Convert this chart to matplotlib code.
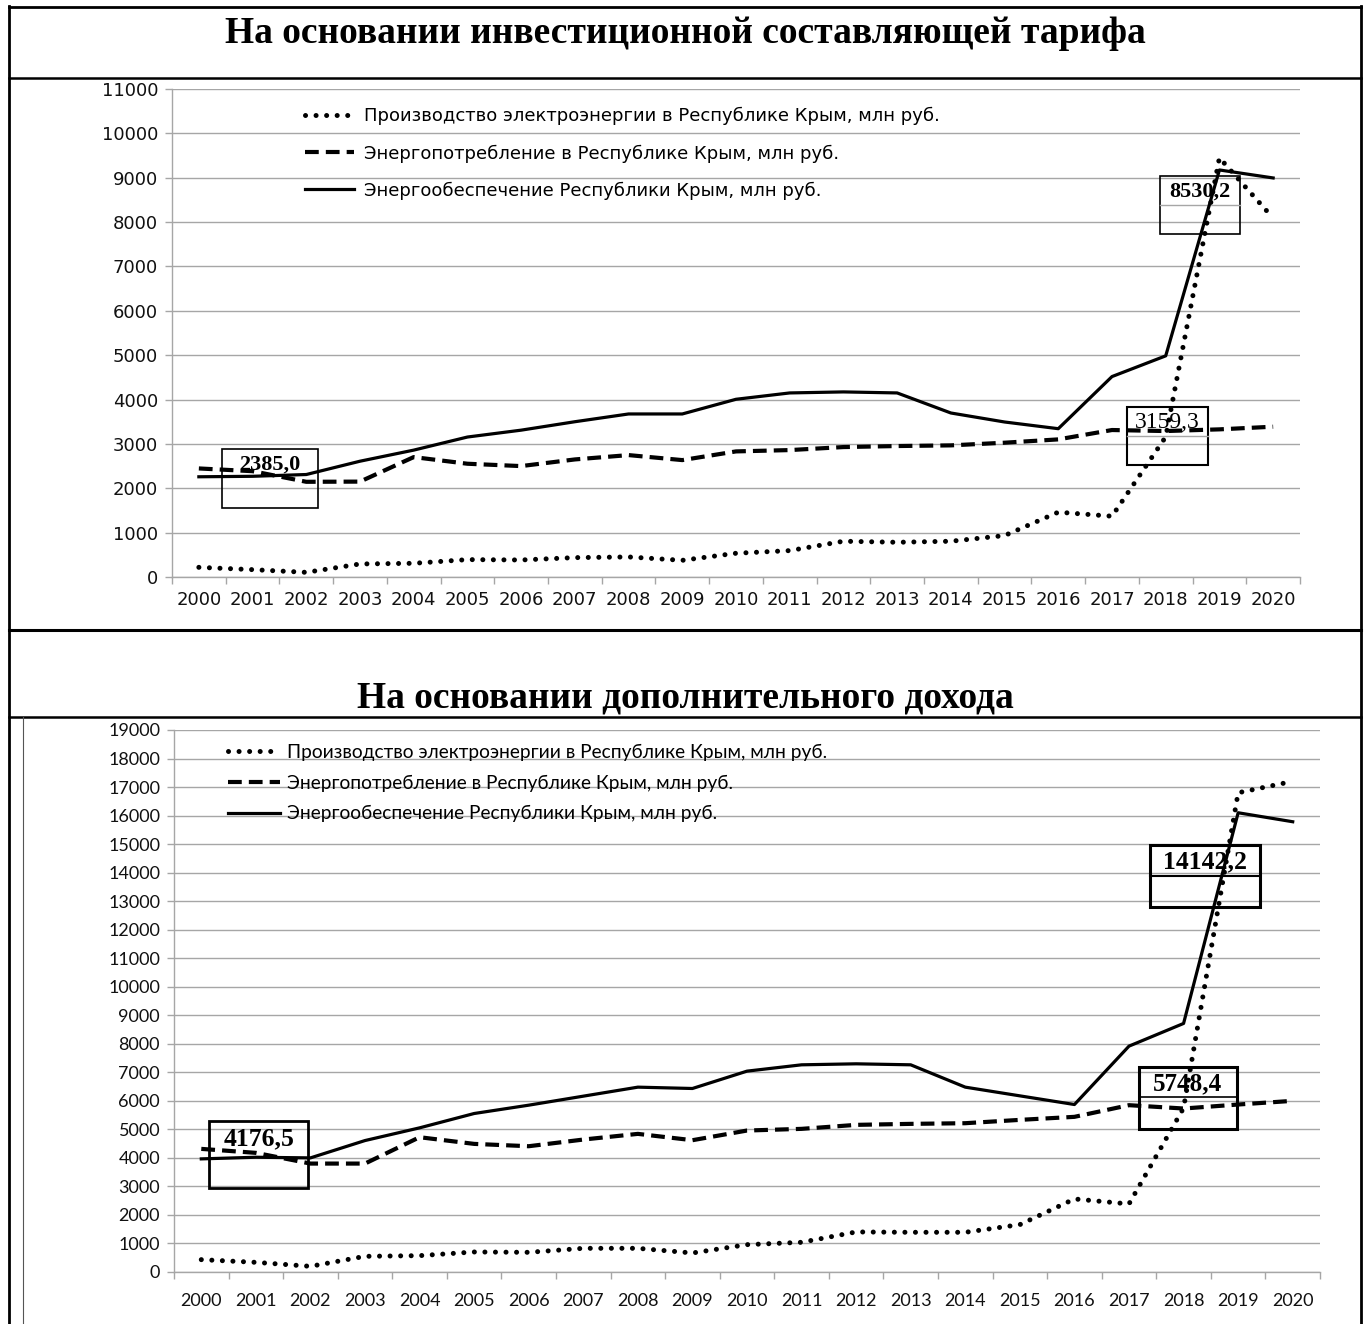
import numpy as np
import matplotlib
matplotlib.use("Agg")
import matplotlib.pyplot as plt
from matplotlib.patches import Rectangle
from matplotlib.lines import Line2D

years = [str(y) for y in range(2000, 2021)]

labels = ["Производство электроэнергии в Республике Крым, млн руб.",
          "Энергопотребление в Республике Крым, млн руб.",
          "Энергообеспечение Республики Крым, млн руб."]

# top chart - на основании инвестиционной составляющей тарифа
inv_production = [218, 166, 105, 294, 309, 392, 384, 437, 452, 376, 535,
                  595, 806, 783, 806, 934, 1461, 1370, 3159.3, 9450, 8090]
inv_consumption = [2447, 2385.0, 2146, 2150, 2703, 2553, 2500, 2650, 2748, 2635, 2831,
                   2861, 2929, 2952, 2967, 3027, 3102, 3313, 3290, 3328, 3388]
inv_supply = [2259, 2270, 2310, 2610, 2860, 3155, 3310, 3500, 3675, 3675, 4006,
              4149, 4172, 4149, 3697, 3494, 3343, 4518, 4985, 9175, 8995]

# bottom chart - на основании дополнительного дохода
add_production = [433, 339, 199, 550, 573, 702, 690, 830, 830, 667, 959,
                  1041, 1404, 1392, 1392, 1661, 2561, 2386, 5748.4, 16800, 17200]
add_consumption = [4316, 4176.5, 3801, 3801, 4725, 4491, 4409, 4643, 4842, 4620, 4959,
                   5018, 5158, 5193, 5216, 5333, 5439, 5848, 5731, 5871, 6000]
add_supply = [3965, 4023, 4000, 4608, 5053, 5556, 5848, 6164, 6480, 6433, 7041,
              7263, 7298, 7263, 6480, 6175, 5871, 7918, 8713, 16099, 15784]

gridc = "#a6a6a6"
W, H = 1365, 1324

fig = plt.figure(figsize=(W / 100, H / 100), dpi=100)
fig.patch.set_facecolor("white")


def setup_axes(ax, ymax, font, fsize, xpad, ypad):
    ax.set_xlim(-0.5, 20.5)
    ax.set_ylim(0, ymax)
    ax.set_yticks(range(0, ymax + 1, 1000))
    ax.set_xticks(range(21))
    ax.set_xticklabels(years)
    ax.set_xticks(np.arange(-0.5, 21, 1), minor=True)
    ax.tick_params(axis="x", which="major", length=0, pad=xpad)
    ax.tick_params(axis="x", which="minor", length=5, color=gridc, width=1)
    ax.tick_params(axis="y", length=5, color=gridc, width=1, pad=ypad)
    for s in ["top", "right"]:
        ax.spines[s].set_visible(False)
    for s in ["left", "bottom"]:
        ax.spines[s].set_color(gridc)
        ax.spines[s].set_linewidth(1)
    ax.grid(axis="y", color=gridc, lw=1)
    ax.set_axisbelow(True)
    for lab in ax.get_xticklabels() + ax.get_yticklabels():
        lab.set_fontfamily(font)
        lab.set_fontsize(fsize)
        lab.set_color("#111111")


def draw_lines(ax, prod, cons, supp):
    x = np.arange(len(years))
    ax.plot(x, prod, color="black", lw=3.6, linestyle=(0, (0.01, 2.1)),
            dash_capstyle="round", label=labels[0], zorder=3)
    ax.plot(x, cons, color="black", lw=3.0, linestyle=(0, (3.3, 1.7)),
            dash_capstyle="butt", label=labels[1], zorder=3)
    ax.plot(x, supp, color="black", lw=2.3, label=labels[2], zorder=3)


def add_box(ax, x0, x1, y0, y1, ymid, text, size, weight, lw, midc, midlw):
    ax.add_patch(Rectangle((x0, y0), x1 - x0, y1 - y0, fill=False,
                           ec="black", lw=lw, zorder=2))
    if ymid is not None:
        ax.plot([x0, x1], [ymid, ymid], color=midc, lw=midlw, zorder=2)
    ty = y1 - (y1 - y0) * 0.27
    ax.text((x0 + x1) / 2, ty, text, ha="center", va="center",
            family="Liberation Serif", weight=weight, size=size, zorder=2)


# top panel
ax1 = fig.add_axes([172 / W, 1 - 577 / H, (1300 - 172) / W, (577 - 89) / H])
setup_axes(ax1, 11000, "DejaVu Sans", 13, 10, 5)
draw_lines(ax1, inv_production, inv_consumption, inv_supply)
ax1.legend(loc="upper left", bbox_to_anchor=(0.118, 0.963), frameon=False,
           handlelength=2.7, handletextpad=0.55, labelspacing=1.05,
           borderpad=0, borderaxespad=0,
           prop={"family": "DejaVu Sans", "size": 13})
add_box(ax1, 0.43, 2.22, 1555, 2885, None, "2385,0", 16, "bold", 1.2, "black", 1)
add_box(ax1, 17.9, 19.39, 7732, 9040, 8386, "8530,2", 16, "bold", 1.2, gridc, 1)
add_box(ax1, 17.27, 18.79, 2525, 3832, 3179, "3159,3", 17, "normal", 1.5, gridc, 1)

# bottom panel
ax2 = fig.add_axes([174 / W, 1 - 1272 / H, (1320 - 174) / W, (1272 - 730) / H])
setup_axes(ax2, 19000, "Lato", 13, 15, 5)
draw_lines(ax2, add_production, add_consumption, add_supply)
ax2.legend(loc="upper left", bbox_to_anchor=(0.047, 0.975), frameon=False,
           handlelength=2.7, handletextpad=0.4, labelspacing=0.72,
           borderpad=0, borderaxespad=0,
           prop={"family": "Lato", "size": 13.8})
add_box(ax2, 0.14, 1.96, 2944, 5293, None, "4176,5", 18.5, "bold", 2, "black", 1)
add_box(ax2, 17.39, 19.4, 12793, 14967, 13880, "14142,2", 18.5, "bold", 2.2, "black", 1.5)
add_box(ax2, 17.18, 18.98, 5012, 7185, 6134, "5748,4", 18, "bold", 2.2, "black", 1.2)

# titles
fig.text(685 / W, 1 - 43 / H, "На основании инвестиционной составляющей тарифа",
         ha="center", va="baseline", family="Liberation Serif", weight="bold", size=27)
fig.text(685 / W, 1 - 708 / H, "На основании дополнительного дохода",
         ha="center", va="baseline", family="Liberation Serif", weight="bold", size=27)


# table borders
def hline(py, x0, x1, lw):
    fig.add_artist(Line2D([x0 / W, x1 / W], [1 - py / H, 1 - py / H],
                          transform=fig.transFigure, color="black", lw=lw))


def vline(px, y0, y1, lw, c="black"):
    fig.add_artist(Line2D([px / W, px / W], [1 - y0 / H, 1 - y1 / H],
                          transform=fig.transFigure, color=c, lw=lw))


hline(7, 9, 1361, 2)
hline(78, 9, 1361, 1.8)
hline(630, 9, 1361, 2.2)
hline(717, 9, 1361, 1.8)
vline(9, 6, H, 2)
vline(1361, 6, H, 2)
vline(23, 717, H, 0.8, "#555555")

fig.savefig("out.png", dpi=100, facecolor="white")
